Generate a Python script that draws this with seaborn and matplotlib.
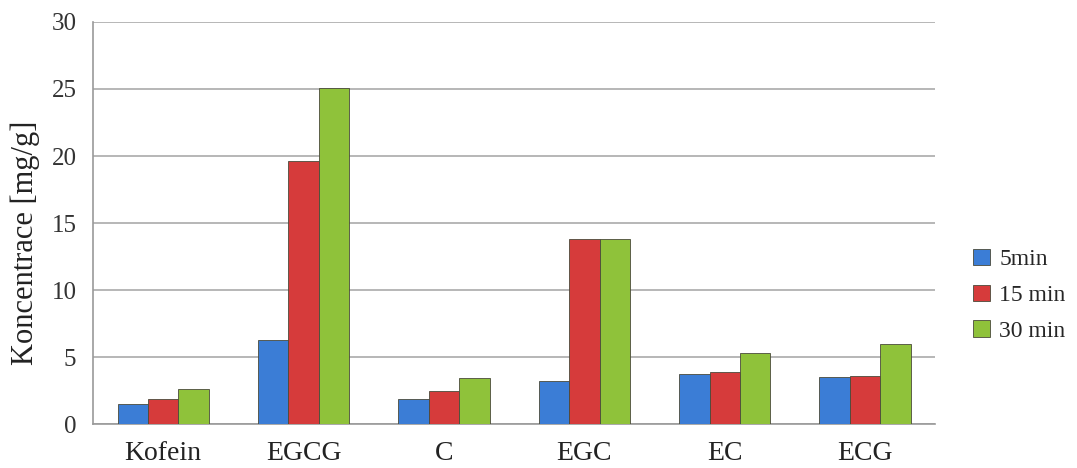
import matplotlib
matplotlib.use("Agg")
import matplotlib.pyplot as plt
import seaborn as sns
import pandas as pd

categories = ["Kofein", "EGCG", "C", "EGC", "EC", "ECG"]
series_names = ["5min", "15 min", "30 min"]
v5 = [1.5, 6.3, 1.9, 3.2, 3.7, 3.5]
v15 = [1.9, 19.6, 2.5, 13.8, 3.9, 3.6]
v30 = [2.6, 25.1, 3.4, 13.8, 5.3, 6.0]
yticks = [0, 5, 10, 15, 20, 25, 30]

rows = []
for name, vals in zip(series_names, [v5, v15, v30]):
    for c, v in zip(categories, vals):
        rows.append({"cat": c, "series": name, "val": v})
df = pd.DataFrame(rows)

sns.set_style("white")
plt.rcParams['font.family'] = ['Liberation Serif', 'DejaVu Serif']

fig = plt.figure(figsize=(10.77, 4.68), dpi=100)
ax = fig.add_axes([0.0864, 0.094, 0.782, 0.859])

colors = ["#3b7dd6", "#d63b3b", "#8fc23a"]
sns.barplot(data=df, x="cat", y="val", hue="series", order=categories,
            hue_order=series_names, palette=colors, saturation=1, width=0.65,
            edgecolor="#4a4a3a", linewidth=0.6, ax=ax, zorder=3)

ax.set_ylim(0, 30)
ax.set_yticks(yticks)
ax.set_yticklabels([str(t) for t in yticks], fontsize=18, color="#333333")
ax.set_xlim(-0.5, len(categories) - 0.5)
ax.tick_params(axis="x", labelsize=20, colors="#222222", length=0, pad=12)
ax.tick_params(axis="y", length=6, width=1, color="#999999", direction="out", pad=6)
ax.yaxis.grid(True, color="#aaaaaa", linewidth=1.2, zorder=0)
ax.set_axisbelow(True)
for s in ["top", "right"]:
    ax.spines[s].set_visible(False)
for s in ["left", "bottom"]:
    ax.spines[s].set_color("#999999")
    ax.spines[s].set_linewidth(1.2)
ax.set_xlabel("")
ax.set_ylabel("Koncentrace [mg/g]", fontsize=22, color="#222222")
ax.yaxis.set_label_coords(-0.063, 0.45)

handles, labels = ax.get_legend_handles_labels()
ax.legend(handles, labels, loc="center left", bbox_to_anchor=(1.02, 0.32),
          frameon=False, fontsize=17, handlelength=0.7, handleheight=0.7,
          handletextpad=0.4, labelspacing=0.6)

fig.savefig("out.png", dpi=100)
